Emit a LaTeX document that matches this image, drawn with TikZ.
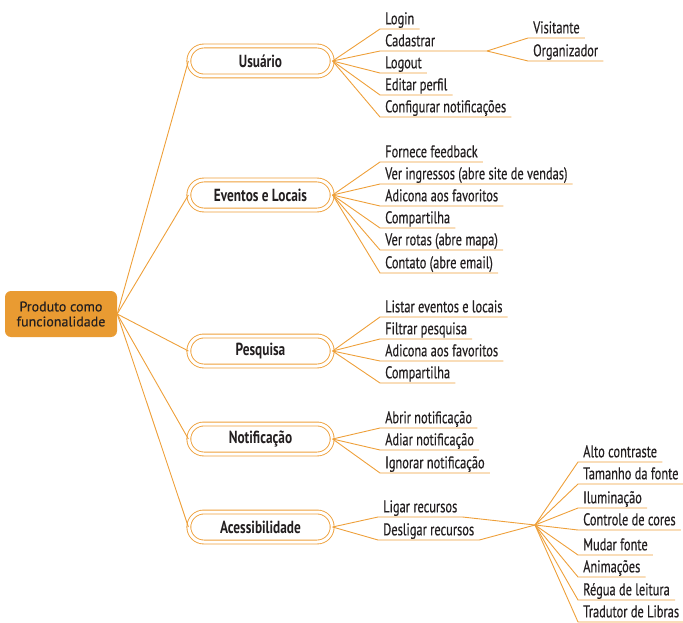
\documentclass[tikz,border=0pt]{standalone}
\usepackage{fontspec}
\setmainfont{PT Sans}
\newfontfamily\leaffont[FakeStretch=0.73,FakeBold=0.4]{PT Sans}
\newfontfamily\catfont[FakeStretch=0.76]{PT Sans}
\newfontfamily\rootfont[FakeBold=0.3]{PT Sans}
\usetikzlibrary{shapes.misc}
\definecolor{mapline}{HTML}{EEA03A}
\definecolor{rootfill}{HTML}{E99B32}
\definecolor{ink}{HTML}{231F20}
\tikzset{
  link/.style={draw=mapline, line width=0.9pt},
  rootbox/.style={fill=rootfill, rounded corners=6pt, minimum width=112pt,
    minimum height=46pt, align=center, text=ink, inner sep=0pt,
    font=\rootfont\fontsize{14}{15}\selectfont},
  catbox/.style={rounded rectangle, draw=mapline, double=white,
    double distance=3pt, line width=0.9pt, minimum width=150pt,
    minimum height=30pt, text=ink, font=\catfont\bfseries\fontsize{17.5}{19}\selectfont},
  leaf/.style={anchor=south west, inner xsep=5pt, inner ysep=0.5pt,
    text height=12pt, text depth=4pt, text=ink,
    font=\leaffont\fontsize{17}{19}\selectfont},
}
\begin{document}
\begin{tikzpicture}[x=1pt,y=-1pt]
\useasboundingbox (0,0) rectangle (683,623);

% central topic
\node[rootbox] (root) at (61,314) {Produto como\\funcionalidade};

% main branches
\node[catbox] (usr) at (260.5,61)  {Usuário};
\node[catbox] (evt) at (260.5,195) {Eventos e Locais};
\node[catbox] (pes) at (260.5,351) {Pesquisa};
\node[catbox] (ntf) at (260.5,439) {Notificação};
\node[catbox] (ace) at (260.5,527) {Acessibilidade};

\foreach \c in {usr,evt,pes,ntf,ace}
  \draw[link] (root.east) -- (\c.west);

% Usuário
\node[leaf] (u1) at (380,29)  {Login};
\node[leaf] (u2) at (380,51)  {Cadastrar};
\node[leaf] (u3) at (380,73)  {Logout};
\node[leaf] (u4) at (380,95)  {Editar perfil};
\node[leaf] (u5) at (380,117) {Configurar notificações};
\foreach \l in {u1,u3,u4,u5}
  \draw[link] (usr.east) -- (\l.south west) -- (\l.south east);
\coordinate (ufork) at (487,51);
\draw[link] (usr.east) -- (u2.south west) -- (ufork);
\node[leaf] (v1) at (528,38) {Visitante};
\node[leaf] (v2) at (528,61) {Organizador};
\foreach \l in {v1,v2}
  \draw[link] (ufork) -- (\l.south west) -- (\l.south east);

% Eventos e Locais
\node[leaf] (e1) at (380,162) {Fornece feedback};
\node[leaf] (e2) at (380,184) {Ver ingressos (abre site de vendas)};
\node[leaf] (e3) at (380,206) {Adicona aos favoritos};
\node[leaf] (e4) at (380,228) {Compartilha};
\node[leaf] (e5) at (380,250) {Ver rotas (abre mapa)};
\node[leaf] (e6) at (380,273) {Contato (abre email)};
\foreach \l in {e1,e2,e3,e4,e5,e6}
  \draw[link] (evt.east) -- (\l.south west) -- (\l.south east);

% Pesquisa
\node[leaf] (p1) at (380,317) {Listar eventos e locais};
\node[leaf] (p2) at (380,339) {Filtrar pesquisa};
\node[leaf] (p3) at (380,361) {Adicona aos favoritos};
\node[leaf] (p4) at (380,383) {Compartilha};
\foreach \l in {p1,p2,p3,p4}
  \draw[link] (pes.east) -- (\l.south west) -- (\l.south east);

% Notificação
\node[leaf] (n1) at (380,428) {Abrir notificação};
\node[leaf] (n2) at (380,450) {Adiar notificação};
\node[leaf] (n3) at (380,473) {Ignorar notificação};
\foreach \l in {n1,n2,n3}
  \draw[link] (ntf.east) -- (\l.south west) -- (\l.south east);

% Acessibilidade
\node[leaf] (a1) at (378,517) {Ligar recursos};
\node[leaf] (a2) at (378,540) {Desligar recursos};
\coordinate (afork) at (535,525);
\foreach \l in {a1,a2}
  \draw[link] (ace.east) -- (\l.south west) -- (\l.south east) -- (afork);

\node[leaf] (r1) at (578,462) {Alto contraste};
\node[leaf] (r2) at (578,484) {Tamanho da fonte};
\node[leaf] (r3) at (578,508) {Iluminação};
\node[leaf] (r4) at (578,530) {Controle de cores};
\node[leaf] (r5) at (578,555) {Mudar fonte};
\node[leaf] (r6) at (578,577) {Animações};
\node[leaf] (r7) at (578,600) {Régua de leitura};
\node[leaf] (r8) at (578,622) {Tradutor de Libras};
\foreach \l in {r1,r2,r3,r4,r5,r6,r7,r8}
  \draw[link] (afork) -- (\l.south west) -- (\l.south east);
\end{tikzpicture}
\end{document}
